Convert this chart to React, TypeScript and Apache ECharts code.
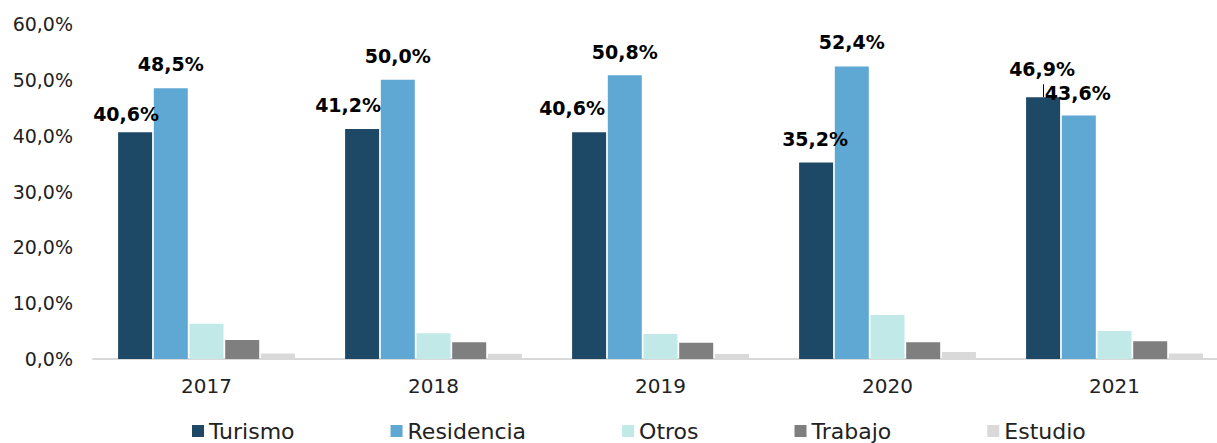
import React, { useEffect, useRef } from "react";
import * as echarts from "echarts";

const years = ["2017", "2018", "2019", "2020", "2021"];
const turismo = [40.6, 41.2, 40.6, 35.2, 46.9];
const residencia = [48.5, 50.0, 50.8, 52.4, 43.6];
const otros = [6.3, 4.6, 4.5, 7.9, 5.0];
const trabajo = [3.4, 3.0, 2.9, 3.0, 3.2];
const estudio = [1.0, 0.95, 0.9, 1.25, 1.0];
const yTicks = { min: 0, max: 60, interval: 10 };

// label nudges (pixels) for the value labels, as placed in the original
const turismoLabelOffsets = [[-9, 5], [-14, 0], [-17, -1], [-1, 0], [-1, -4.5]];
const residenciaLabelOffsets = [[0, -1], [0, 0], [0, 0], [0, -1], [-1, 1]];

const FONT = "DejaVu Sans";
const fmt = (v: number) => v.toFixed(1).replace(".", ",") + "%";

export default function App() {
  const ref = useRef<HTMLDivElement>(null);
  useEffect(() => {
    if (!ref.current) return;
    const chart = echarts.init(ref.current, null, { renderer: "svg" });
    const valueLabel = {
      show: true,
      position: "top" as const,
      distance: 14,
      fontFamily: FONT,
      fontWeight: "bold" as const,
      fontSize: 19,
      color: "#000",
      formatter: (p: any) => fmt(p.value),
    };
    const base = {
      type: "bar" as const,
      barWidth: 34,
      barGap: "5%",
    };
    chart.setOption({
      animation: false,
      textStyle: { fontFamily: FONT },
      grid: { left: 93, top: 24, width: 1135, height: 335, outerBoundsMode: "none", containLabel: false },
      legend: {
        left: 192,
        top: 420,
        padding: 0,
        icon: "rect",
        itemWidth: 12,
        itemHeight: 12,
        itemGap: 96,
        textStyle: { fontFamily: FONT, fontSize: 22, color: "#222" },
        data: ["Turismo", "Residencia", "Otros", "Trabajo", "Estudio"],
      },
      xAxis: {
        type: "category",
        data: years,
        axisLine: { show: true, lineStyle: { color: "#d9d9d9", width: 2 } },
        axisTick: { show: false },
        axisLabel: { fontFamily: FONT, fontSize: 20, color: "#222", margin: 17 },
      },
      yAxis: {
        type: "value",
        min: yTicks.min,
        max: yTicks.max,
        interval: yTicks.interval,
        axisLine: { show: false },
        axisTick: { show: false },
        splitLine: { show: false },
        axisLabel: {
          fontFamily: FONT,
          fontSize: 19,
          color: "#222",
          margin: 20,
          formatter: (v: number) => fmt(v),
        },
      },
      series: [
        {
          ...base,
          name: "Turismo",
          itemStyle: { color: "#1d4966" },
          label: valueLabel,
          data: turismo.map((v, i) => ({ value: v, label: { offset: turismoLabelOffsets[i] } })),
          markLine: {
            silent: true,
            symbol: "none",
            label: { show: false },
            lineStyle: { color: "#000", width: 1, type: "solid" },
            data: [[{ coord: [years[4], turismo[4]] }, { coord: [years[4], turismo[4] + 2.3] }]],
          },
        },
        {
          ...base,
          name: "Residencia",
          itemStyle: { color: "#5fa8d3" },
          label: valueLabel,
          data: residencia.map((v, i) => ({ value: v, label: { offset: residenciaLabelOffsets[i] } })),
        },
        { ...base, name: "Otros", itemStyle: { color: "#c0e9e7" }, data: otros },
        { ...base, name: "Trabajo", itemStyle: { color: "#7f7f7f" }, data: trabajo },
        { ...base, name: "Estudio", itemStyle: { color: "#d9d9d9" }, data: estudio },
      ],
    });
    return () => chart.dispose();
  }, []);
  return (
    <div
      ref={ref}
      style={{ position: "absolute", left: 0, top: 0, width: 1217, height: 443 }}
    />
  );
}
